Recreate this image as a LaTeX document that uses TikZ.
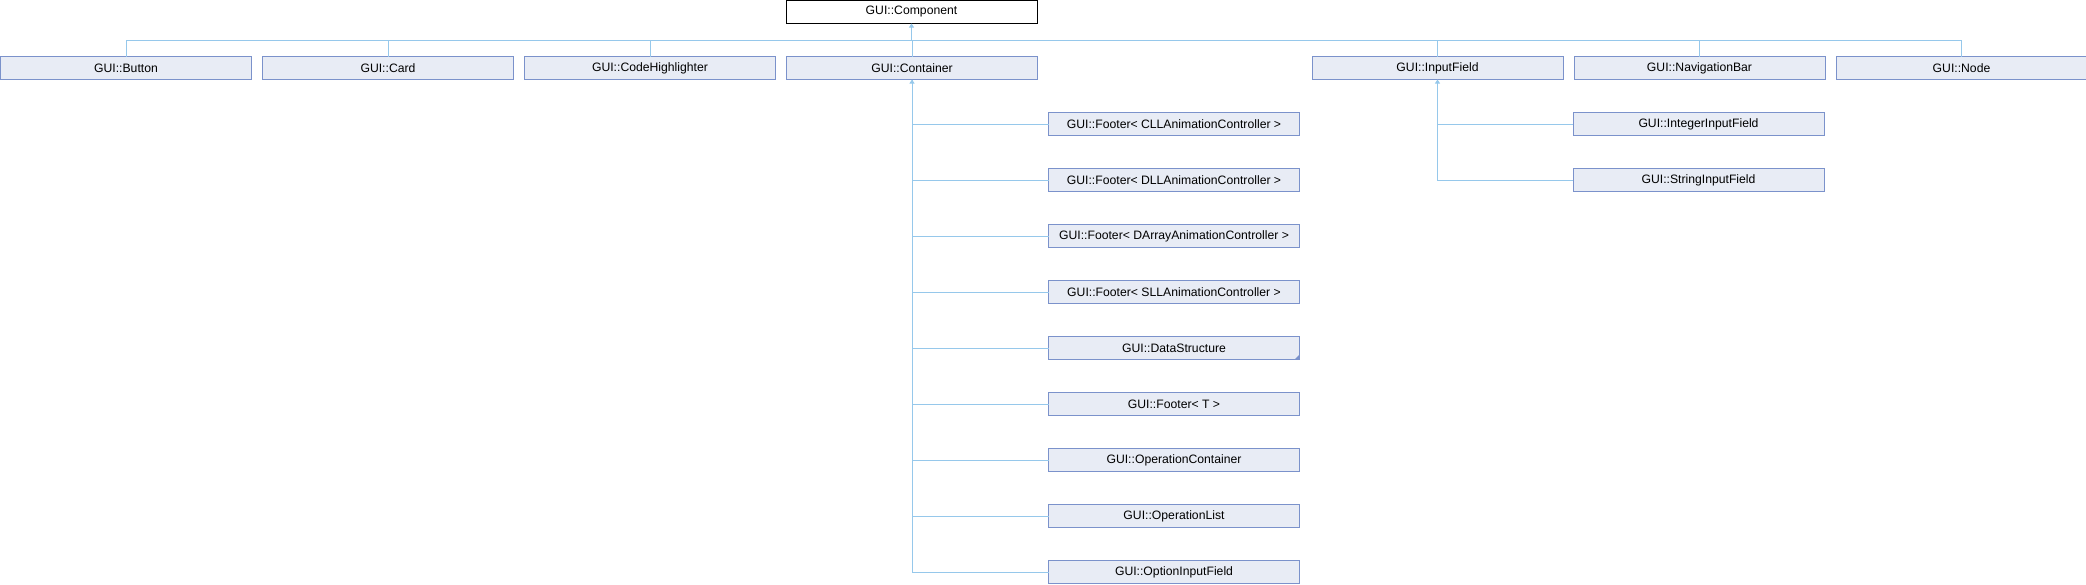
\documentclass[tikz,border=0pt]{standalone}
\usepackage{fontspec}
\setmainfont{Liberation Sans}
\definecolor{boxblue}{RGB}{123, 146, 203}
\definecolor{boxfill}{RGB}{232, 236, 245}
\definecolor{linkblue}{RGB}{150, 200, 235}
\usetikzlibrary{arrows.meta, positioning}

\begin{document}
\begin{tikzpicture}[x=1pt, y=-1pt,
    cls/.style={draw=boxblue, fill=boxfill, line width=1pt, outer sep=0pt, minimum width=251pt, minimum height=23pt, inner sep=0pt, font=\fontsize{12.2}{14}\selectfont},
    root/.style={cls, draw=black, fill=white},
    link/.style={draw=linkblue, line width=1pt},
    tip/.style={-{Triangle[length=4pt, width=5pt]}}]
  \useasboundingbox (0,0) rectangle (2086,584);

  % base class
  \node[root] (component) at (911.5,12) {GUI::Component};

  % direct subclasses
  \node[cls] (button) at (126,68) {GUI::Button};
  \node[cls, right=11pt of button] (card) {GUI::Card};
  \node[cls, right=11pt of card] (codehl) {GUI::CodeHighlighter};
  \node[cls, right=11pt of codehl] (container) {GUI::Container};
  \node[cls] (inputfield) at (1437.5,68) {GUI::InputField};
  \node[cls, right=11pt of inputfield] (navbar) {GUI::NavigationBar};
  \node[cls, right=11pt of navbar] (guinode) {GUI::Node};

  \coordinate (bus) at (911.5,40);
  \draw[link, tip] (bus) -- (component.south);
  \foreach \n in {button, card, codehl, container, inputfield, navbar, guinode}
    \draw[link] (bus) -| (\n.north);

  % subclasses of Container
  \foreach \n/\t [count=\i from 2] in {
      footcll/{GUI::Footer< CLLAnimationController >},
      footdll/{GUI::Footer< DLLAnimationController >},
      footdarr/{GUI::Footer< DArrayAnimationController >},
      footsll/{GUI::Footer< SLLAnimationController >},
      datastruct/{GUI::DataStructure},
      footer/{GUI::Footer< T >},
      opcontainer/{GUI::OperationContainer},
      oplist/{GUI::OperationList},
      optinput/{GUI::OptionInputField}} {
    \node[cls] (\n) at (1174, 56*\i+12) {\t};
    \draw[link] (\n.west) -| (container.south);
  }
  \draw[link, tip] (optinput.west) -| (container.south);
  \fill[boxblue] (datastruct.south east) -- ++(-5,0) -- ++(5,-5) -- cycle;

  % subclasses of InputField
  \node[cls] (intinput) at (1698.5,124) {GUI::IntegerInputField};
  \node[cls, below=33pt of intinput] (strinput) {GUI::StringInputField};
  \draw[link] (intinput.west) -| (inputfield.south);
  \draw[link, tip] (strinput.west) -| (inputfield.south);
\end{tikzpicture}
\end{document}
